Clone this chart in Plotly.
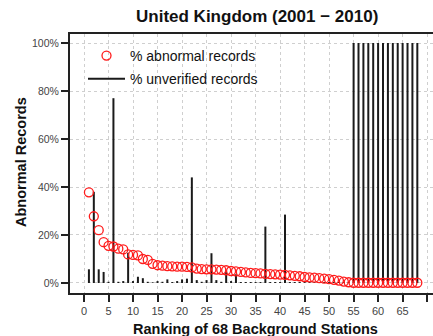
import plotly.graph_objects as go

ranks = list(range(1, 69))
abnormal_pct = [37.8, 27.8, 22.0, 17.0, 15.5, 15.2, 14.3, 14.0, 11.9, 11.7,
                11.5, 10.0, 9.6, 8.0, 7.4, 7.2, 7.0, 6.9, 6.8, 6.8,
                6.7, 6.5, 6.0, 5.8, 5.7, 5.7, 5.6, 5.5, 5.3, 5.0,
                4.8, 4.6, 4.4, 4.2, 4.1, 4.0, 3.8, 3.7, 3.6, 3.5,
                3.4, 3.2, 3.0, 2.8, 2.5, 2.3, 2.2, 2.0, 1.8, 1.6,
                1.3, 1.0, 0.6, 0.3, 0.1, 0.1, 0.1, 0.1, 0.1, 0.1,
                0.1, 0.1, 0.1, 0.1, 0.1, 0.1, 0.1, 0.1]
unverified_pct = [5.7, 38.0, 5.7, 4.6, 0.5, 77.0, 0.5, 0.8, 12.6, 0.8,
                  2.6, 2.0, 0.5, 0.3, 0.8, 0.5, 1.5, 0.4, 0.8, 1.5,
                  1.8, 44.0, 1.2, 0.5, 1.2, 12.4, 1.2, 0.5, 4.7, 0.8,
                  3.6, 0.4, 0.4, 0.4, 0.4, 0.4, 23.5, 0.4, 0.4, 0.4,
                  28.5, 0.4, 0.4, 0.4, 0.4, 0.4, 0.4, 0.4, 0.4, 0.4,
                  0.4, 0.4, 0.4, 0.4, 100, 100, 100, 100, 100, 100,
                  100, 100, 100, 100, 100, 100, 100, 100]
x_ticks = list(range(0, 71, 5))
y_ticks = [0, 20, 40, 60, 80, 100]
y_tick_labels = [f"{v}%" for v in y_ticks]

W, H = 433, 336
L, R, T, B = 70, 0, 34, 43
PW, PH = W - L - R, H - T - B

ux, uy = [], []
for r, v in zip(ranks, unverified_pct):
    ux += [r, r, None]
    uy += [0, v, None]

FONT = "Liberation Sans, Arial, sans-serif"

fig = go.Figure()
fig.add_trace(go.Scatter(
    x=ux, y=uy, mode="lines", name="% unverified records",
    legendrank=2, legendgroup="b",
    line=dict(color="#1a1a1a", width=2), hoverinfo="skip"))
fig.add_trace(go.Scatter(
    x=ranks, y=abnormal_pct, mode="markers", name="% abnormal records",
    legendrank=1, legendgroup="a",
    marker=dict(symbol="circle-open", size=9, color="#ff1a1a",
                line=dict(width=1.3, color="#ff1a1a"))))


def px_x(p):
    return (p - L) / PW


def px_y(p):
    return (H - B - p) / PH


fig.update_layout(
    width=W, height=H,
    margin=dict(l=L, r=R, t=T, b=B, pad=0),
    paper_bgcolor="white", plot_bgcolor="white",
    font=dict(family=FONT, color="#222"),
    showlegend=True,
    legend=dict(x=px_x(83), y=px_y(40), xanchor="left", yanchor="top",
                bgcolor="rgba(0,0,0,0)", font=dict(size=14, color="#111"),
                itemwidth=37, tracegroupgap=2, traceorder="grouped"),
    xaxis=dict(range=[-2.86, 71.2], tickvals=x_ticks,
               showgrid=True, gridcolor="#cfcfcf", griddash="dot", gridwidth=1,
               zeroline=False, showline=True, linecolor="#222", linewidth=2,
               mirror=True, ticks="outside", ticklen=7, tickwidth=1.5,
               tickcolor="#222", tickfont=dict(size=11, color="#444")),
    yaxis=dict(range=[-4.17, 103.75], tickvals=y_ticks, ticktext=y_tick_labels,
               showgrid=True, gridcolor="#cfcfcf", griddash="dot", gridwidth=1,
               zeroline=False, showline=True, linecolor="#222", linewidth=2,
               mirror=False, ticks="outside", ticklen=7, tickwidth=1.5,
               tickcolor="#222", tickfont=dict(size=10.5, color="#444")),
    annotations=[
        dict(text="<b>United Kingdom (2001 \u2212 2010)</b>", xref="paper", yref="paper",
             x=px_x(256.5), y=px_y(17), xanchor="center", yanchor="middle",
             showarrow=False, font=dict(size=17, color="#111")),
        dict(text="<b>Ranking of 68 Background Stations</b>", xref="paper", yref="paper",
             x=px_x(255), y=px_y(329), xanchor="center", yanchor="middle",
             showarrow=False, font=dict(size=14.5, color="#111")),
        dict(text="<b>Abnormal Records</b>", xref="paper", yref="paper",
             x=px_x(21), y=px_y(162), xanchor="center", yanchor="middle",
             textangle=-90, showarrow=False, font=dict(size=14.5, color="#111")),
    ],
)

fig.write_html("out.html")
